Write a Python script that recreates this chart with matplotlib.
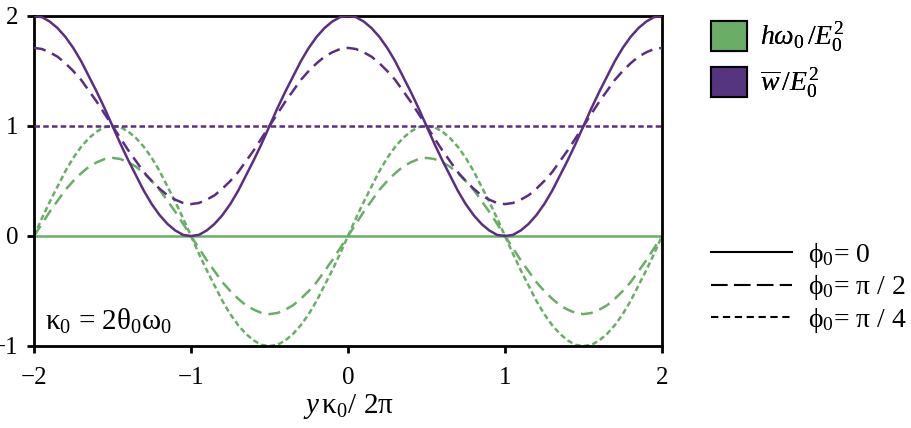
import matplotlib
matplotlib.use("Agg")
import matplotlib.pyplot as plt
from matplotlib.patches import Patch
from matplotlib.lines import Line2D

plt.rcParams['font.family'] = ['Liberation Serif', 'DejaVu Serif']
plt.rcParams['mathtext.fontset'] = 'custom'
plt.rcParams['mathtext.rm'] = 'Liberation Serif'
plt.rcParams['mathtext.it'] = 'Liberation Serif:italic'
plt.rcParams['mathtext.bf'] = 'Liberation Serif:bold'

# ---- data (step 0.05 in x) ----
x = [round(-2 + 0.05 * k, 2) for k in range(81)]

w_phi0_half = [2.00, 1.99, 1.95, 1.89, 1.81, 1.71, 1.59, 1.45, 1.31, 1.16,
               1.00, 0.84, 0.69, 0.55, 0.41, 0.29, 0.19, 0.11, 0.05, 0.01,
               0.00, 0.01, 0.05, 0.11, 0.19, 0.29, 0.41, 0.55, 0.69, 0.84,
               1.00, 1.16, 1.31, 1.45, 1.59, 1.71, 1.81, 1.89, 1.95, 1.99,
               2.00, 1.99, 1.95, 1.89, 1.81, 1.71, 1.59, 1.45, 1.31, 1.16,
               1.00, 0.84, 0.69, 0.55, 0.41, 0.29, 0.19, 0.11, 0.05, 0.01,
               0.00, 0.01, 0.05, 0.11, 0.19, 0.29, 0.41, 0.55, 0.69, 0.84,
               1.00, 1.16, 1.31, 1.45, 1.59, 1.71, 1.81, 1.89, 1.95, 1.99,
               2.00]
w_dashed = [1.71, 1.70, 1.67, 1.63, 1.57, 1.50, 1.42, 1.32, 1.22, 1.11,
            1.00, 0.89, 0.78, 0.68, 0.58, 0.50, 0.43, 0.37, 0.33, 0.30,
            0.29, 0.30, 0.33, 0.37, 0.43, 0.50, 0.58, 0.68, 0.78, 0.89,
            1.00, 1.11, 1.22, 1.32, 1.42, 1.50, 1.57, 1.63, 1.67, 1.70,
            1.71, 1.70, 1.67, 1.63, 1.57, 1.50, 1.42, 1.32, 1.22, 1.11,
            1.00, 0.89, 0.78, 0.68, 0.58, 0.50, 0.43, 0.37, 0.33, 0.30,
            0.29, 0.30, 0.33, 0.37, 0.43, 0.50, 0.58, 0.68, 0.78, 0.89,
            1.00, 1.11, 1.22, 1.32, 1.42, 1.50, 1.57, 1.63, 1.67, 1.70,
            1.71]
w_dotted_level = 1.0
h_solid_level = 0.0
h_dashed = [0.00, 0.11, 0.22, 0.32, 0.42, 0.50, 0.57, 0.63, 0.67, 0.70,
            0.71, 0.70, 0.67, 0.63, 0.57, 0.50, 0.42, 0.32, 0.22, 0.11,
            0.00, -0.11, -0.22, -0.32, -0.42, -0.50, -0.57, -0.63, -0.67, -0.70,
            -0.71, -0.70, -0.67, -0.63, -0.57, -0.50, -0.42, -0.32, -0.22, -0.11,
            0.00, 0.11, 0.22, 0.32, 0.42, 0.50, 0.57, 0.63, 0.67, 0.70,
            0.71, 0.70, 0.67, 0.63, 0.57, 0.50, 0.42, 0.32, 0.22, 0.11,
            0.00, -0.11, -0.22, -0.32, -0.42, -0.50, -0.57, -0.63, -0.67, -0.70,
            -0.71, -0.70, -0.67, -0.63, -0.57, -0.50, -0.42, -0.32, -0.22, -0.11,
            0.00]
h_dotted = [0.00, 0.16, 0.31, 0.45, 0.59, 0.71, 0.81, 0.89, 0.95, 0.99,
            1.00, 0.99, 0.95, 0.89, 0.81, 0.71, 0.59, 0.45, 0.31, 0.16,
            0.00, -0.16, -0.31, -0.45, -0.59, -0.71, -0.81, -0.89, -0.95, -0.99,
            -1.00, -0.99, -0.95, -0.89, -0.81, -0.71, -0.59, -0.45, -0.31, -0.16,
            0.00, 0.16, 0.31, 0.45, 0.59, 0.71, 0.81, 0.89, 0.95, 0.99,
            1.00, 0.99, 0.95, 0.89, 0.81, 0.71, 0.59, 0.45, 0.31, 0.16,
            0.00, -0.16, -0.31, -0.45, -0.59, -0.71, -0.81, -0.89, -0.95, -0.99,
            -1.00, -0.99, -0.95, -0.89, -0.81, -0.71, -0.59, -0.45, -0.31, -0.16,
            0.00]

xticks = [-2, -1, 0, 1, 2]
yticks = [-1, 0, 1, 2]
xtick_labels = ['\u22122', '\u22121', '0', '1', '2']
ytick_labels = ['\u22121', '0', '1', '2']

series_labels = [r'$h\omega_0\,/E_0^2$', r'$\overline{w}\,/E_0^2$']
style_labels = ['ϕ$_0$= 0', 'ϕ$_0$= π / 2', 'ϕ$_0$= π / 4']

GREEN = '#6aad66'
PURPLE = '#5a2e82'
PATCH_PURPLE = '#55357f'

DASHED = (0, (4.8, 2.8))
DOTTED = (0, (2.2, 1.3))

fig = plt.figure(figsize=(9.11, 4.28), dpi=100)
ax = fig.add_axes([34 / 911, 1 - 346 / 428, (662 - 34) / 911, (346 - 16) / 428])

lw = 1.8
# green (h) curves
ax.axhline(h_solid_level, color=GREEN, lw=lw, zorder=2)
ax.plot(x, h_dashed, color=GREEN, lw=lw, linestyle=DASHED, zorder=2)
ax.plot(x, h_dotted, color=GREEN, lw=lw, linestyle=DOTTED, zorder=2)
# purple (w) curves
ax.plot(x, w_phi0_half, color=PURPLE, lw=lw, zorder=3)
ax.plot(x, w_dashed, color=PURPLE, lw=lw, linestyle=DASHED, zorder=3)
ax.axhline(w_dotted_level, color=PURPLE, lw=lw, linestyle=DOTTED, zorder=3)

ax.set_xlim(-2, 2)
ax.set_ylim(-1, 2)
ax.set_xticks(xticks)
ax.set_xticklabels(xtick_labels)
ax.set_yticks(yticks)
ax.set_yticklabels(ytick_labels)
ax.tick_params(direction='out', length=5, width=2, labelsize=18)
ax.tick_params(axis='x', pad=10)
ax.tick_params(axis='y', pad=6)
for s in ax.spines.values():
    s.set_linewidth(2)
ax.set_xlabel(r'$y\,$κ$_0$/ 2π', fontsize=21, labelpad=2)

ax.text(11 / 628, 0.03, 'κ$_0$ = 2θ$_0$ω$_0$', transform=ax.transAxes,
        fontsize=21, ha='left', va='bottom')

# legends
h1 = [Patch(facecolor=GREEN, edgecolor='black', lw=1.5),
      Patch(facecolor=PATCH_PURPLE, edgecolor='black', lw=1.5)]
leg1 = fig.legend(h1, series_labels, loc='upper left',
                  bbox_to_anchor=(711 / 911, 1 - 21 / 428), frameon=False,
                  fontsize=20, handlelength=1.28, handleheight=1.28,
                  handletextpad=0.5, labelspacing=0.45,
                  borderpad=0, borderaxespad=0)

h2 = [Line2D([], [], color='black', lw=1.5),
      Line2D([], [], color='black', lw=1.5, linestyle=(0, (8, 3))),
      Line2D([], [], color='black', lw=1.5, linestyle=(0, (3.5, 2.2)))]
leg2 = fig.legend(h2, style_labels, loc='upper left',
                  bbox_to_anchor=(711 / 911, 1 - 241 / 428), frameon=False,
                  fontsize=20, handlelength=2.9, handletextpad=0.6,
                  labelspacing=0.12, borderpad=0, borderaxespad=0)
fig.add_artist(leg1)

fig.savefig('out.png', dpi=100)
